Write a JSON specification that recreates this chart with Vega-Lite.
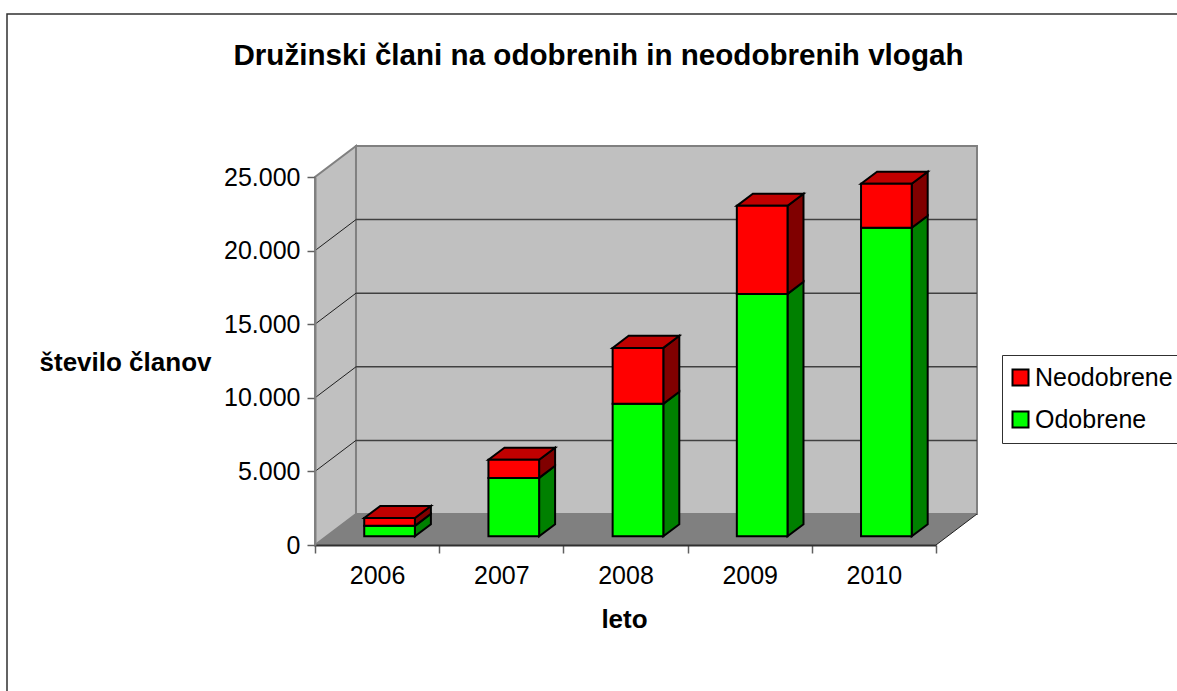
{
"$schema":"https://vega.github.io/schema/vega-lite/v6.json",
"width":621,"height":368,
"autosize":"none",
"padding":{"left":315,"top":177,"right":241,"bottom":146},
"background":"white",
"config":{"font":"Liberation Sans","view":{"stroke":null}},
"title":{"text":"Družinski člani na odobrenih in neodobrenih vlogah","fontSize":29.6,"fontWeight":"bold","color":"black","anchor":"middle","dx":-27,"offset":0,"dy":58,"font":"Liberation Sans"},
"datasets":{
"bars":[
{"year":2006,"series":"Odobrene","value":710},{"year":2006,"series":"Neodobrene","value":530},
{"year":2007,"series":"Odobrene","value":3970},{"year":2007,"series":"Neodobrene","value":1230},
{"year":2008,"series":"Odobrene","value":9000},{"year":2008,"series":"Neodobrene","value":3800},
{"year":2009,"series":"Odobrene","value":16470},{"year":2009,"series":"Neodobrene","value":5980},
{"year":2010,"series":"Odobrene","value":20960},{"year":2010,"series":"Neodobrene","value":2990}],
"depth":[{"d":0},{"d":1}],
"grid":[{"tick":5000},{"tick":10000},{"tick":15000},{"tick":20000}]
},
"encoding":{
"x":{"field":"x","type":"quantitative","scale":{"domain":[2005.5,2010.5],"nice":false,"zero":false},
"axis":{"title":"leto","titleFontSize":26,"titleFontWeight":"bold","titleColor":"black","titleX":309,"titleY":74,"titleBaseline":"middle","titleAnchor":"middle","titleAlign":"center",
"values":[2005.5,2006,2006.5,2007,2007.5,2008,2008.5,2009,2009.5,2010,2010.5],"grid":false,"zindex":1,
"labelExpr":"datum.value % 1 === 0 ? format(datum.value,'d') : ''","labelFontSize":25,"labelColor":"black","labelOverlap":false,"labelFlush":false,"labelBound":false,"labelPadding":10,
"tickSize":8,"tickColor":"#606060","tickWidth":1.5,"tickOpacity":{"condition":{"test":"datum.value % 1 === 0","value":0},"value":1},
"domainColor":"#303030","domainWidth":2}},
"y":{"field":"y","type":"quantitative","scale":{"domain":[0,25000],"nice":false,"zero":false},
"axis":{"title":"število članov","titleFontSize":26,"titleFontWeight":"bold","titleColor":"black","titleAngle":0,"titleX":-190,"titleY":185,"titleBaseline":"middle","titleAnchor":"middle","titleAlign":"center",
"values":[0,5000,10000,15000,20000,25000],"grid":false,"zindex":1,
"labelExpr":"replace(format(datum.value,','),',','.')","labelFontSize":25,"labelColor":"black","labelOverlap":false,"labelFlush":false,"labelBound":false,"labelPadding":7,
"tickSize":8,"tickColor":"#606060","tickWidth":1.5,"domainColor":"#808080","domainWidth":2}}
},
"layer":[
{"data":{"values":[{"f":1}]},"mark":{"type":"rect","fill":"white","stroke":"#303030","strokeWidth":1.5},
"encoding":{"x":{"value":-308},"x2":{"value":900},"y":{"value":-163},"y2":{"value":600}}},
{"data":{"name":"depth"},"transform":[{"calculate":"2005.5+0.33*datum.d","as":"x"},{"calculate":"2106*datum.d","as":"y"},{"calculate":"25000+2106*datum.d","as":"y2"}],
"mark":{"type":"area","fill":"#C0C0C0","stroke":"#808080","strokeWidth":2},"encoding":{"y2":{"field":"y2"}}},
{"data":{"name":"depth"},"transform":[{"filter":"datum.d===1"},{"calculate":"2005.5+0.33","as":"x"},{"calculate":"2010.5+0.33","as":"x2"},{"calculate":"2106","as":"y"},{"calculate":"27106","as":"y2"}],
"mark":{"type":"rect","fill":"#C0C0C0","stroke":"#808080","strokeWidth":2},"encoding":{"x2":{"field":"x2"},"y2":{"field":"y2"}}},
{"data":{"name":"depth"},"transform":[{"calculate":"2005.5+0.33*datum.d","as":"x"},{"calculate":"2010.5+0.33*datum.d","as":"x2"},{"calculate":"2106*datum.d","as":"y"}],
"mark":{"type":"area","orient":"horizontal","fill":"#808080"},"encoding":{"x2":{"field":"x2"}}},
{"data":{"name":"grid"},"transform":[{"calculate":"2005.83","as":"x"},{"calculate":"2010.83","as":"x2"},{"calculate":"datum.tick+2106","as":"y"}],
"mark":{"type":"rule","color":"#404040","strokeWidth":1.5},"encoding":{"x2":{"field":"x2"}}},
{"data":{"name":"grid"},"transform":[{"calculate":"2005.5","as":"x"},{"calculate":"2005.83","as":"x2"},{"calculate":"datum.tick","as":"y"},{"calculate":"datum.tick+2106","as":"y2"}],
"mark":{"type":"rule","color":"#202020","strokeWidth":1},"encoding":{"x2":{"field":"x2"},"y2":{"field":"y2"}}},
{"data":{"name":"depth"},"transform":[{"filter":"datum.d===1"},{"calculate":"2010.5","as":"x"},{"calculate":"2010.83","as":"x2"},{"calculate":"0","as":"y"},{"calculate":"2106","as":"y2"}],
"mark":{"type":"rule","color":"#202020","strokeWidth":1},"encoding":{"x2":{"field":"x2"},"y2":{"field":"y2"}}},
{"data":{"name":"bars"},"transform":[
{"calculate":"indexof(['Odobrene','Neodobrene'],datum.series)","as":"ord"},
{"stack":"value","groupby":["year"],"sort":[{"field":"ord","order":"ascending"}],"as":["from","to"]},
{"calculate":"[0.28,0.67]","as":"ds"},{"flatten":["ds"]},
{"calculate":"datum.year+0.212+0.33*datum.ds","as":"x"},{"calculate":"datum.to+2106*datum.ds","as":"y"},{"calculate":"datum.from+2106*datum.ds","as":"y2"}],
"mark":{"type":"area","stroke":"black","strokeWidth":2},
"encoding":{"y2":{"field":"y2"},"detail":{"field":"year"},"color":{"field":"series","type":"nominal","legend":null,"scale":{"domain":["Neodobrene","Odobrene"],"range":["#800000","#008000"]}}}},
{"data":{"name":"bars"},"transform":[
{"calculate":"indexof(['Odobrene','Neodobrene'],datum.series)","as":"ord"},
{"stack":"value","groupby":["year"],"sort":[{"field":"ord","order":"ascending"}],"as":["from","to"]},
{"filter":"datum.series==='Neodobrene'"},
{"calculate":"[0.28,0.67]","as":"ds"},{"flatten":["ds"]},
{"calculate":"datum.year-0.196+0.33*datum.ds","as":"x"},{"calculate":"datum.year+0.212+0.33*datum.ds","as":"x2"},{"calculate":"datum.to+2106*datum.ds","as":"y"}],
"mark":{"type":"area","orient":"horizontal","fill":"#C00000","stroke":"black","strokeWidth":2},
"encoding":{"x2":{"field":"x2"},"detail":{"field":"year"}}},
{"data":{"name":"bars"},"transform":[
{"calculate":"indexof(['Odobrene','Neodobrene'],datum.series)","as":"ord"},
{"stack":"value","groupby":["year"],"sort":[{"field":"ord","order":"ascending"}],"as":["from","to"]},
{"calculate":"datum.year-0.196+0.33*0.28","as":"x"},{"calculate":"datum.year+0.212+0.33*0.28","as":"x2"},{"calculate":"datum.to+2106*0.28","as":"y"},{"calculate":"datum.from+2106*0.28","as":"y2"}],
"mark":{"type":"rect","stroke":"black","strokeWidth":2},
"encoding":{"x2":{"field":"x2"},"y2":{"field":"y2"},"color":{"field":"series","type":"nominal","scale":{"domain":["Neodobrene","Odobrene"],"range":["#FF0000","#00FF00"]},
"legend":{"title":null,"orient":"none","legendX":687,"legendY":178,"fillColor":"white","strokeColor":"#303030","padding":10,"symbolType":"square","symbolSize":256,"symbolOffset":-4,"symbolStrokeColor":"black","symbolStrokeWidth":2,"symbolOpacity":1,"labelFontSize":25,"labelColor":"black","labelOffset":2,"labelLimit":300,"rowPadding":16}}}}
],
"resolve":{"scale":{"color":"independent"}}
}
